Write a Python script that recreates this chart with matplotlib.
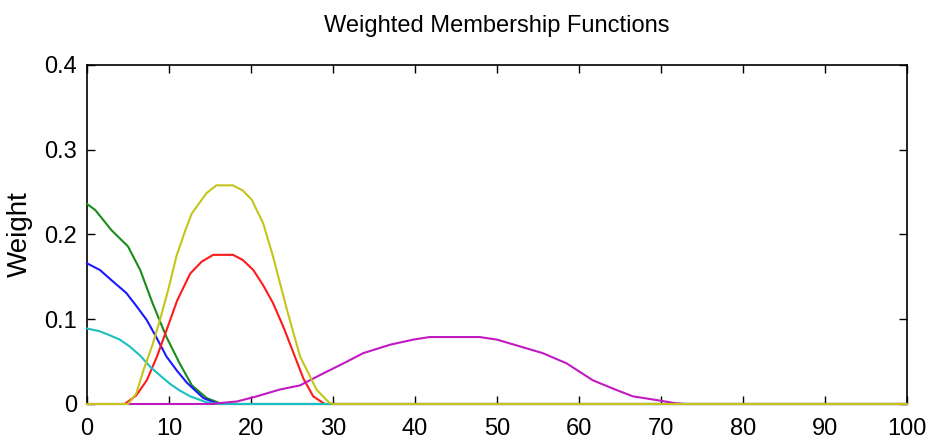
import matplotlib
matplotlib.use('Agg')
import matplotlib.pyplot as plt

# membership curves (x, weight)
green_x = [0, 1, 3, 5, 6.5, 8, 9.7, 11.3, 12.8, 14.6, 16.2, 18, 100]
green_y = [0.236, 0.229, 0.205, 0.186, 0.158, 0.119, 0.079, 0.048, 0.022, 0.007, 0.001, 0, 0]

blue_x = [0, 1.6, 3, 4.8, 6, 7.3, 8.5, 9.7, 11, 12.2, 14.2, 16, 100]
blue_y = [0.166, 0.158, 0.146, 0.131, 0.116, 0.099, 0.078, 0.056, 0.039, 0.025, 0.007, 0, 0]

cyan_x = [0, 1.5, 2.8, 4, 5.2, 6.5, 7.7, 9, 10.1, 11.3, 12.6, 14.6, 16, 100]
cyan_y = [0.089, 0.086, 0.081, 0.076, 0.068, 0.057, 0.044, 0.033, 0.024, 0.016, 0.009, 0.002, 0, 0]

red_x = [0, 4.6, 6, 7.3, 8.5, 9.7, 11, 12.6, 14, 15.4, 17.8, 19, 20.3, 21.5, 22.7, 24, 25.2, 26.4, 27.6, 29, 100]
red_y = [0, 0, 0.010, 0.028, 0.055, 0.087, 0.122, 0.154, 0.168, 0.176, 0.176, 0.170, 0.158, 0.140, 0.119, 0.090, 0.060, 0.030, 0.009, 0, 0]

yellow_x = [0, 5, 6, 6.9, 8, 8.9, 10, 10.9, 12, 12.8, 14.6, 15.8, 17.8, 19, 20.1, 21.5, 22.7, 24.4, 26, 28, 29.5, 30, 100]
yellow_y = [0, 0, 0.012, 0.040, 0.070, 0.099, 0.138, 0.174, 0.205, 0.225, 0.249, 0.258, 0.258, 0.252, 0.241, 0.213, 0.174, 0.111, 0.056, 0.017, 0.002, 0, 0]

magenta_x = [0, 15, 18.3, 20.7, 23.5, 26, 28.8, 31.3, 33.7, 37, 39.8, 41.8, 47.9, 50, 52.8, 55.6, 58.5, 61.7, 64.2, 66.6, 69.9, 71.7, 73, 100]
magenta_y = [0, 0, 0.003, 0.009, 0.017, 0.022, 0.036, 0.048, 0.060, 0.070, 0.076, 0.079, 0.079, 0.076, 0.068, 0.060, 0.048, 0.028, 0.018, 0.009, 0.004, 0.001, 0, 0]

xticks = list(range(0, 101, 10))
yticks = [0, 0.1, 0.2, 0.3, 0.4]
ytick_labels = ['0', '0.1', '0.2', '0.3', '0.4']

plt.rcParams['font.family'] = ['Liberation Sans', 'DejaVu Sans']

fig = plt.figure(figsize=(9.31, 4.47), dpi=100)
ax = fig.add_axes([0.0934, 0.0962, 0.8806, 0.7584])

lw = 1.5
# drawing order matters: the last curves sit on top along the zero line
ax.plot(green_x, green_y, color='#1a8c1a', lw=lw, clip_on=False, zorder=3)
ax.plot(blue_x, blue_y, color='#1a1aff', lw=lw, clip_on=False, zorder=3)
ax.plot(red_x, red_y, color='#ff1a1a', lw=lw, clip_on=False, zorder=3)
ax.plot(cyan_x, cyan_y, color='#1ac0c0', lw=lw, clip_on=False, zorder=3)
ax.plot(magenta_x, magenta_y, color='#c21ac2', lw=lw, clip_on=False, zorder=3)
ax.plot(yellow_x, yellow_y, color='#c4c41a', lw=lw, clip_on=False, zorder=3)

ax.set_xlim(0, 100)
ax.set_ylim(0, 0.4)
ax.set_xticks(xticks)
ax.set_yticks(yticks)
ax.set_yticklabels(ytick_labels)
ax.tick_params(direction='in', length=6, width=1, top=True, right=True,
               labelsize=17)
ax.tick_params(axis='x', pad=10)
ax.tick_params(axis='y', pad=7)
for s in ax.spines.values():
    s.set_linewidth(1.2)

ax.set_ylabel('Weight', fontsize=20, labelpad=8)
ax.set_title('Weighted Membership Functions', fontsize=17, pad=24)

fig.savefig('out.png', dpi=100)
